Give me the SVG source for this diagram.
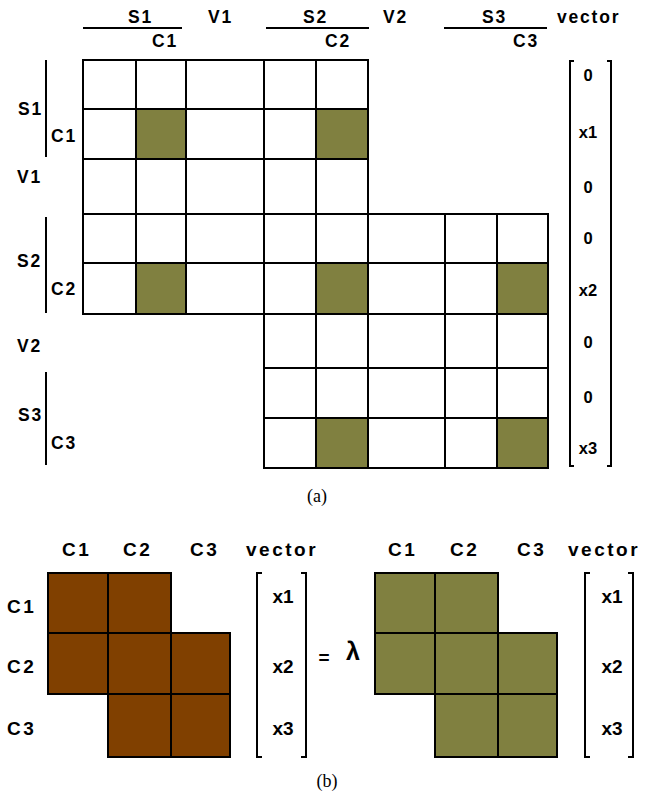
<svg xmlns="http://www.w3.org/2000/svg" width="648" height="800" viewBox="0 0 648 800">
<style>
.lbl{font-family:"Liberation Sans",Arial,sans-serif;font-weight:bold;font-size:17.5px;letter-spacing:1.8px;fill:#000}
.lbl2{font-family:"Liberation Sans",Arial,sans-serif;font-weight:bold;font-size:19px;letter-spacing:2.5px;fill:#000}
.vec{font-family:"Liberation Sans",Arial,sans-serif;font-weight:bold;font-size:16.5px;fill:#000;text-anchor:middle}
.vec2{font-family:"Liberation Sans",Arial,sans-serif;font-weight:bold;font-size:19px;fill:#000;text-anchor:middle}
.cap{font-family:"Liberation Serif","Times New Roman",serif;font-size:18px;fill:#000;text-anchor:middle}
.ln{stroke:#000;stroke-width:2;fill:none}
.olive{fill:#808040}
.brown{fill:#804000}
</style>
<rect width="648" height="800" fill="#fff"/>

<g id="top-header">
<text class="lbl" x="128" y="23">S1</text>
<text class="lbl" x="208" y="23">V1</text>
<text class="lbl" x="303" y="23">S2</text>
<text class="lbl" x="383" y="23">V2</text>
<text class="lbl" x="482" y="23">S3</text>
<text class="lbl" x="557" y="23">vector</text>
<path class="ln" d="M83,28H182M266,28H369M444,28H547"/>
<text class="lbl" x="152" y="47">C1</text>
<text class="lbl" x="325" y="47">C2</text>
<text class="lbl" x="513" y="47">C3</text>
</g>

<g id="top-rowlabels">
<text class="lbl" x="18" y="115">S1</text>
<text class="lbl" x="51" y="142">C1</text>
<text class="lbl" x="17" y="183">V1</text>
<text class="lbl" x="17" y="267">S2</text>
<text class="lbl" x="51" y="295">C2</text>
<text class="lbl" x="17" y="352">V2</text>
<text class="lbl" x="18" y="421">S3</text>
<text class="lbl" x="51" y="449">C3</text>
<path class="ln" d="M46,60V157M46,217V313M46,372V465"/>
</g>

<g id="top-matrix">
<rect class="olive" x="136" y="109" width="50" height="50"/>
<rect class="olive" x="316" y="109" width="52" height="50"/>
<rect class="olive" x="136" y="263" width="50" height="51"/>
<rect class="olive" x="316" y="263" width="52" height="51"/>
<rect class="olive" x="497" y="263" width="51" height="51"/>
<rect class="olive" x="316" y="418" width="52" height="50"/>
<rect class="olive" x="497" y="418" width="51" height="50"/>
<path class="ln" stroke-linecap="square" d="M83,60H368M83,109H368M83,159H368M83,214H548M83,263H548M83,314H548M264,368H548M264,418H548M264,468H548
M83,60V314M136,60V314M186,60V314M264,60V468M316,60V468M368,60V468M445,214V468M497,214V468M548,214V468"/>
</g>

<g id="top-vector">
<path class="ln" d="M574,61H570V466H574M607,61H611V466H607"/>
<text class="vec" x="588" y="81">0</text>
<text class="vec" x="588" y="138">x1</text>
<text class="vec" x="588" y="193">0</text>
<text class="vec" x="588" y="244">0</text>
<text class="vec" x="588" y="296">x2</text>
<text class="vec" x="588" y="348">0</text>
<text class="vec" x="588" y="403">0</text>
<text class="vec" x="588" y="454">x3</text>
</g>

<text class="cap" x="317" y="502">(a)</text>

<g id="bottom-left">
<text class="lbl2" x="62" y="556">C1</text>
<text class="lbl2" x="123" y="556">C2</text>
<text class="lbl2" x="190" y="556">C3</text>
<text class="lbl2" x="246" y="556">vector</text>
<text class="lbl2" x="7" y="613">C1</text>
<text class="lbl2" x="7" y="673">C2</text>
<text class="lbl2" x="7" y="735">C3</text>
<path class="brown" d="M48,573H171V633H230V757H108V694H48Z"/>
<path class="ln" stroke-linecap="square" d="M48,573H171M48,633H230M48,694H230M108,757H230M48,573V694M108,573V757M171,573V757M230,633V757"/>
<path class="ln" d="M262,573H257V757H262M301,573H306V757H301"/>
<text class="vec2" x="283" y="603">x1</text>
<text class="vec2" x="283" y="673">x2</text>
<text class="vec2" x="283" y="735">x3</text>
</g>

<g id="equals">
<text class="vec2" x="324" y="664">=</text>
<text x="353" y="660" font-family="Liberation Sans, Arial, sans-serif" font-weight="bold" font-size="25" text-anchor="middle">λ</text>
</g>

<g id="bottom-right">
<text class="lbl2" x="388" y="556">C1</text>
<text class="lbl2" x="450" y="556">C2</text>
<text class="lbl2" x="517" y="556">C3</text>
<text class="lbl2" x="568" y="556">vector</text>
<path class="olive" d="M375,573H498V633H557V757H435V694H375Z"/>
<path class="ln" stroke-linecap="square" d="M375,573H498M375,633H557M375,694H557M435,757H557M375,573V694M435,573V757M498,573V757M557,633V757"/>
<path class="ln" d="M590,573H585V757H590M628,573H633V757H628"/>
<text class="vec2" x="612" y="603">x1</text>
<text class="vec2" x="612" y="673">x2</text>
<text class="vec2" x="612" y="735">x3</text>
</g>

<text class="cap" x="327" y="787">(b)</text>
</svg>
